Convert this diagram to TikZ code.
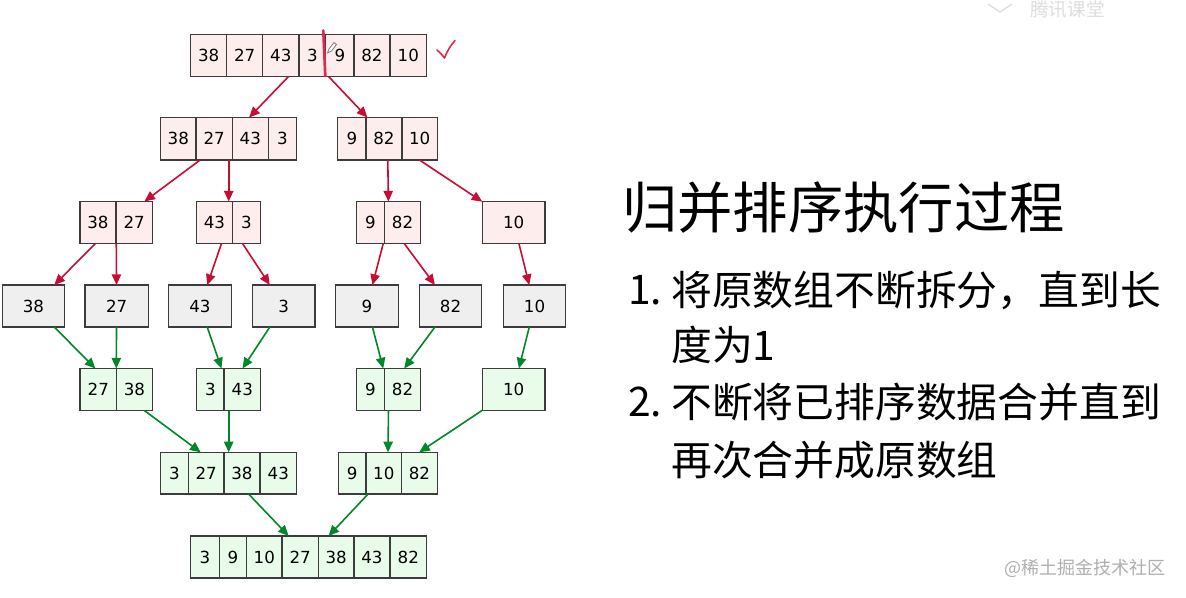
\documentclass[tikz,border=0pt]{standalone}
\usepackage{fontspec}
\usetikzlibrary{arrows.meta,fit}
\newfontfamily\numfont{DejaVu Sans}
\newfontfamily\cjk{Noto Sans CJK SC}
\definecolor{pinkfill}{RGB}{253,237,237}
\definecolor{grayfill}{RGB}{239,239,239}
\definecolor{greenfill}{RGB}{233,251,233}
\definecolor{bordergray}{RGB}{60,60,60}
\definecolor{redarrow}{RGB}{200,12,52}
\definecolor{greenarrow}{RGB}{0,136,40}
\definecolor{inkred}{RGB}{222,40,80}
\definecolor{wmgray}{RGB}{175,175,175}
\tikzset{
  boxfill/.style={fill=#1, draw=none, inner sep=0pt, outer sep=0pt},
  cellline/.style={draw=bordergray, line width=1.1pt},
  num/.style={font=\numfont\fontsize{12.5}{14}\selectfont, text=black, inner sep=0pt},
  redge/.style={draw=redarrow, line width=1.2pt, -{Triangle[length=8pt,width=7pt]}},
  gedge/.style={draw=greenarrow, line width=1.2pt, -{Triangle[length=8pt,width=7pt]}},
  listtxt/.style={font=\cjk\fontsize{30.6}{34}\selectfont, anchor=west, inner sep=0pt, text=black},
}
\newcommand\arr[7]{%
  \node[boxfill=#2, fit={(#5,#3) (#6,#4)}] (#1) {};
  \foreach \xl/\xr/\lab in {#7} {
    \draw[cellline] (\xl,#3) rectangle (\xr,#4);
    \node[num] at ({(\xl+\xr)/2},{(#3+#4)/2}) {\lab};
  }}
\begin{document}
\begin{tikzpicture}[x=0.75pt,y=-0.75pt]
\useasboundingbox (0,0) rectangle (1186,597);
\fill[white] (0,0) rectangle (1186,597);
% row 1
\arr{a}{pinkfill}{34.5}{76.5}{190.7}{426.7}{190.7/226.7/38,226.7/262.7/27,262.7/299/43,299/325.7/3,325.7/354/9,354/390/82,390/426.7/10}
% row 2
\arr{b1}{pinkfill}{117.5}{160}{160.7}{296.7}{160.7/196/38,196/232.3/27,232.3/268.3/43,268.3/296.7/3}
\arr{b2}{pinkfill}{117.5}{160}{337.7}{437.3}{337.7/366/9,366/402/82,402/437.3/10}
% row 3
\arr{c1}{pinkfill}{201.5}{243.5}{80}{152.3}{80/116/38,116/152.3/27}
\arr{c2}{pinkfill}{201.5}{243.5}{196.7}{260.7}{196.7/232.3/43,232.3/260.7/3}
\arr{c3}{pinkfill}{201.5}{243.5}{356.7}{420.7}{356.7/384.3/9,384.3/420.7/82}
\arr{c4}{pinkfill}{201.5}{243.5}{482.3}{545}{482.3/545/10}
% row 4
\arr{d1}{grayfill}{285}{327}{2.7}{64.3}{2.7/64.3/38}
\arr{d2}{grayfill}{285}{327}{85}{148.3}{85/148.3/27}
\arr{d3}{grayfill}{285}{327}{168.3}{231.7}{168.3/231.7/43}
\arr{d4}{grayfill}{285}{327}{252.3}{315}{252.3/315/3}
\arr{d5}{grayfill}{285}{327}{335.7}{398.3}{335.7/398.3/9}
\arr{d6}{grayfill}{285}{327}{419.3}{481.7}{419.3/481.7/82}
\arr{d7}{grayfill}{285}{327}{503.3}{565.7}{503.3/565.7/10}
% row 5
\arr{e1}{greenfill}{368.5}{410.5}{80}{152.3}{80/116.7/27,116.7/152.3/38}
\arr{e2}{greenfill}{368.5}{410.5}{196.7}{260.7}{196.7/224/3,224/260.7/43}
\arr{e3}{greenfill}{368.5}{410.5}{356.7}{420.7}{356.7/384.3/9,384.3/420.7/82}
\arr{e4}{greenfill}{368.5}{410.5}{482.3}{545}{482.3/545/10}
% row 6
\arr{f1}{greenfill}{452.3}{494}{160.7}{296.7}{160.7/188.3/3,188.3/224/27,224/260/38,260/296.7/43}
\arr{f2}{greenfill}{452.3}{494}{338.3}{437.3}{338.3/366/9,366/401.7/10,401.7/437.3/82}
% row 7
\arr{g}{greenfill}{536}{578}{190.7}{426.7}{190.7/219.3/3,219.3/246.7/9,246.7/282/10,282/318.3/27,318.3/354/38,354/390/43,390/426.7/82}
% split edges
\draw[redge] (a) -- (b1);
\draw[redge] (a) -- (b2);
\draw[redge] (b1) -- (c1);
\draw[redge] (b1) -- (c2);
\draw[redge] (b2) -- (c3);
\draw[redge] (b2) -- (c4);
\draw[redge] (c1) -- (d1);
\draw[redge] (c1) -- (d2);
\draw[redge] (c2) -- (d3);
\draw[redge] (c2) -- (d4);
\draw[redge] (c3) -- (d5);
\draw[redge] (c3) -- (d6);
\draw[redge] (c4) -- (d7);
% merge edges
\draw[gedge] (d1) -- (e1);
\draw[gedge] (d2) -- (e1);
\draw[gedge] (d3) -- (e2);
\draw[gedge] (d4) -- (e2);
\draw[gedge] (d5) -- (e3);
\draw[gedge] (d6) -- (e3);
\draw[gedge] (d7) -- (e4);
\draw[gedge] (e1) -- (f1);
\draw[gedge] (e2) -- (f1);
\draw[gedge] (e3) -- (f2);
\draw[gedge] (e4) -- (f2);
\draw[gedge] (f1) -- (g);
\draw[gedge] (f2) -- (g);
% hand annotations
\draw[inkred, line width=2pt, line cap=round] (323.3,30.5) -- (325.3,76);
\draw[inkred, line width=1.2pt, line cap=round, line join=round]
  (437,50) .. controls (440,52) and (442,55) .. (444.5,58) .. controls (447,51) and (451,45) .. (455,40.5);
\draw[gray, line width=0.6pt, fill=white] (327.5,53) -- (329,49) -- (334,42.5) -- (336.5,44.5) -- (331.5,51) -- cycle;
% right-hand text
\node[font=\cjk\fontsize{41.5}{46}\selectfont, anchor=west, inner sep=0pt] (title) at (622,208) {归并排序执行过程};
\node[listtxt] (n1) at (628,290) {1.};
\node[listtxt] (t1) at (671,290) {将原数组不断拆分，直到长};
\node[listtxt] (t2) at (671,345) {度为1};
\node[listtxt] (n2) at (628,402) {2.};
\node[listtxt] (t3) at (671,402) {不断将已排序数据合并直到};
\node[listtxt] (t4) at (671,460) {再次合并成原数组};
% watermarks
\node[font=\cjk\fontsize{13.5}{15}\selectfont, text=wmgray, anchor=west, inner sep=0pt] (wm) at (1004,568) {@稀土掘金技术社区};
\node[font=\cjk\fontsize{14}{16}\selectfont, text=black!13, anchor=north west, inner sep=0pt] (wm2) at (1030,0.5) {腾讯课堂};
\draw[black!13, line width=1pt] (988,4) -- (1000,12) -- (1012,4);
\end{tikzpicture}
\end{document}
